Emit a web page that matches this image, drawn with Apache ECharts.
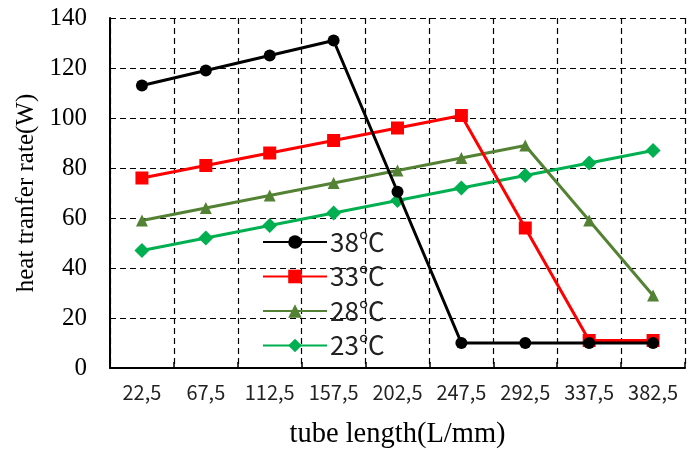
<!DOCTYPE html>
<html><head><meta charset="utf-8">
<script src="https://cdn.jsdelivr.net/npm/echarts@6/dist/echarts.min.js"></script>
<style>html,body{margin:0;padding:0;background:#fff}#c{width:688px;height:450px}</style>
</head><body><div id="c"></div>
<script>
const categories = ['22,5','67,5','112,5','157,5','202,5','247,5','292,5','337,5','382,5'];
const seriesNames = ['38℃','33℃','28℃','23℃'];
const s38 = [113,119,125,131,70.5,10,10,10,10];
const s33 = [76,81,86,91,96,101,56,11,11];
const s28 = [59,64,69,74,79,84,89,59,29];
const s23 = [47,52,57,62,67,72,77,82,87];
const yTicks = [0,20,40,60,80,100,120,140];

const colors = ['#000000','#ff0000','#548235','#00b050'];
const symbols = ['circle','rect','triangle','diamond'];
const sizes = [12,13,12,15];
const dataSets = [s38,s33,s28,s23];

const chart = echarts.init(document.getElementById('c'));
chart.setOption({
  animation:false,
  grid:{left:110,right:3,top:18,bottom:82,containLabel:false,outerBoundsMode:'none'},
  legend:{
    orient:'vertical', left:257, top:224, itemGap:8.5, itemWidth:64, itemHeight:17,
    textStyle:{fontFamily:'Noto Sans CJK SC', fontSize:26, color:'#222', padding:[0,0,0,-2]},
    data:seriesNames
  },
  xAxis:{
    type:'category', data:categories, boundaryGap:true,
    name:'tube length(L/mm)', nameLocation:'middle', nameGap:52,
    nameTextStyle:{fontFamily:'Liberation Serif', fontSize:28.5, color:'#000'},
    axisLine:{lineStyle:{color:'#000', width:2}},
    axisTick:{show:true, inside:true, length:6, interval:0, lineStyle:{color:'#000', width:1.5}},
    axisLabel:{fontFamily:'Noto Sans CJK SC', fontSize:20, color:'#222', margin:14, interval:0, hideOverlap:false},
    splitLine:{show:true, interval:0, lineStyle:{color:'#000', type:[6,4], width:1.2}}
  },
  yAxis:{
    type:'value', min:0, max:140, interval:20,
    name:'heat tranfer rate(W)', nameLocation:'middle', nameGap:71,
    nameTextStyle:{fontFamily:'Liberation Serif', fontSize:25, color:'#000'},
    axisLine:{show:true, lineStyle:{color:'#000', width:2}},
    axisTick:{show:false},
    axisLabel:{fontFamily:'Liberation Serif', fontSize:25, color:'#000', margin:23,
      formatter:v=>yTicks.includes(v)?String(v):''},
    splitLine:{show:true, lineStyle:{color:'#000', type:[6,4], width:1.2}}
  },
  series: dataSets.map((d,i)=>({
    name:seriesNames[i], type:'line', data:d,
    symbol:symbols[i], symbolSize:sizes[i], showAllSymbol:true,
    lineStyle:{color:colors[i], width:3},
    itemStyle:{color:colors[i]},
    z: 10-i
  }))
});
</script></body></html>
